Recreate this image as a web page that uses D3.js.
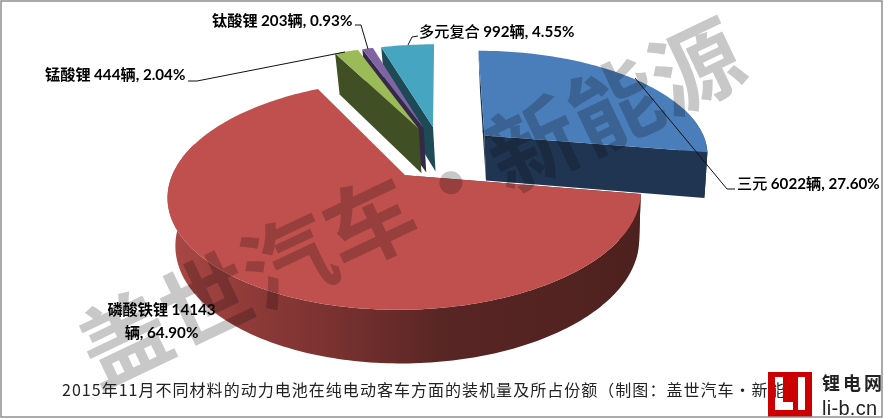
<!DOCTYPE html>
<html><head><meta charset="utf-8">
<script src="https://cdn.jsdelivr.net/npm/d3@7/dist/d3.min.js"></script>
<style>
html,body{margin:0;padding:0;background:#fff}
svg{display:block}
.cjk{font-family:"Noto Sans CJK SC";font-weight:500}
.cjkb{font-family:"Noto Sans CJK SC";font-weight:700}
.lat{font-family:Lato,"Noto Sans CJK SC";font-weight:700}
</style></head><body><svg id="c" width="884" height="419"></svg>
<script>
const names=["三元","磷酸铁锂","锰酸锂","钛酸锂","多元复合"];
const units=[6022,14143,444,203,992];
const shares=["27.60%","64.90%","2.04%","0.93%","4.55%"];
const topColors=["#4a7ebb","#c0504d","#9bbb59","#8064a2","#46a6c2"];
const wallColors=["#1f3552","url(#redWall)","#414f24","#342949","#1e4a55"];
const paintOrder=[0,4,3,2,1];
const titleText="2015年11月不同材料的动力电池在纯电动客车方面的装机量及所占份额（制图：盖世汽车·新能";
const watermark="盖世汽车·新能源";

const svg=d3.select("#c");
const defs=svg.append("defs");
const g=defs.append("linearGradient").attr("id","redWall").attr("gradientUnits","userSpaceOnUse")
  .attr("x1",170).attr("x2",640).attr("y1",0).attr("y2",0);
[[0,"#ab4845"],[.18,"#8d3a38"],[.34,"#7a3230"],[.58,"#582624"],[1,"#4d211f"]].forEach(s=>g.append("stop").attr("offset",s[0]).attr("stop-color",s[1]));

svg.append("rect").attr("width",884).attr("height",419).attr("fill","#fff");

// perspective projection of the pie plane
const cx=441,cy=152.6,Rx=225,Ry=104,p=.165,explode=.26;
const project=(U,V)=>{const w=1/(1+p*V);return [cx+Rx*U*w,cy-Ry*V*w];};
const drop=q=>[560+(q[0]-560)*.98,q[1]+45+(q[1]-137)*.05];
const line=d3.line();
const arcs=d3.pie().sort(null).value(d=>d)(units);

function slice(a){
  const mid=(a.startAngle+a.endAngle)/2;
  const o=[explode*Math.sin(mid),explode*Math.cos(mid)];
  const n=Math.max(2,Math.ceil((a.endAngle-a.startAngle)/.02));
  const ts=d3.range(n+1).map(i=>a.startAngle+(a.endAngle-a.startAngle)*i/n);
  const pt=t=>project(o[0]+Math.sin(t),o[1]+Math.cos(t));
  return {apex:project(o[0],o[1]),rim:ts.map(pt),front:ts.filter(t=>Math.cos(t)<.3).map(pt)};
}
paintOrder.forEach((i)=>{
  const s=slice(arcs[i]);
  const G=svg.append("g");
  const wall=wallColors[i];
  const quad=(a,b)=>G.append("path").attr("d",line([a,b,drop(b),drop(a)])+"Z").attr("fill",wall);
  quad(s.apex,s.rim[0]);
  if(arcs[i].endAngle<Math.PI) quad(s.apex,s.rim[s.rim.length-1]);
  if(s.front.length>1) G.append("path").attr("d",line(s.front.concat(s.front.map(drop).reverse()))+"Z").attr("fill",wall);
  G.append("path").attr("d",line([s.apex].concat(s.rim))+"Z").attr("fill",topColors[i]);
});

// watermark, one glyph at a time along its slanted line
const wmStart=[122,334],wmEnd=[694,62];
const wmAngle=Math.atan2(wmEnd[1]-wmStart[1],wmEnd[0]-wmStart[0])*180/Math.PI;
Array.from(watermark).forEach((ch,i,all)=>{
  const f=i/(all.length-1);
  svg.append("text").text(ch)
    .attr("transform",`translate(${wmStart[0]+(wmEnd[0]-wmStart[0])*f},${wmStart[1]+(wmEnd[1]-wmStart[1])*f}) rotate(${wmAngle})`)
    .attr("text-anchor","middle").attr("dominant-baseline","central")
    .attr("font-family","Noto Sans CJK SC").attr("font-weight",700).attr("font-size",90)
    .attr("fill","#c8c8c8").style("mix-blend-mode","multiply");
});

// leader lines
const leaders=[[[735,189],[727,189],[635,78]],null,[[188,81],[197,81],[345,52]],[[355,25],[361,25],[368,49]],[[418,36],[412,37],[408,45]]];
leaders.forEach(l=>{if(l)svg.append("path").attr("d",line(l)).attr("fill","none").attr("stroke","#111").attr("stroke-width",1);});

// labels
const labelAt=[[737,184],null,[45,75],[212,21],[419,32]];
const labelWeight=["cjk","cjkb","cjkb","cjkb","cjk"];
function label(x,y,anchor,parts){
  const t=svg.append("text").attr("x",x).attr("y",y).attr("dy","0.35em").attr("text-anchor",anchor).attr("font-size",15.2).attr("fill","#000");
  parts.forEach(([c,s])=>t.append("tspan").attr("class",c).text(s));
}
names.forEach((n,i)=>{
  if(!labelAt[i])return;
  label(labelAt[i][0],labelAt[i][1],"start",[[labelWeight[i],n+" "],["lat",units[i]],["cjkb","辆"],["lat",", "+shares[i]]]);
});
label(161.5,310,"middle",[[labelWeight[1],names[1]+" "],["lat",units[1]]]);
label(161.5,333,"middle",[["cjkb","辆"],["lat",", "+shares[1]]]);

// title
svg.append("text").text(titleText).attr("x",62).attr("y",390).attr("dy","0.35em")
  .attr("font-family","Noto Sans CJK SC").attr("font-size",16).attr("letter-spacing",1.03).attr("fill","#222");

// logo
svg.append("path").attr("fill-rule","evenodd").attr("fill","#cc0000")
  .attr("d","M768 372H812V417H768Z M775 377V410H793V402H783V377Z M798 377V410H805V377Z");
Array.from("锂电网").forEach((ch,i)=>svg.append("text").text(ch).attr("x",831+i*21).attr("y",384).attr("dy","0.35em")
  .attr("text-anchor","middle").attr("font-family","Noto Sans CJK SC").attr("font-weight",700).attr("font-size",18).attr("fill","#222"));
svg.append("text").text("li-b.cn").attr("x",822).attr("y",408).attr("dy","0.35em")
  .attr("font-family","Liberation Sans").attr("font-size",20).attr("letter-spacing",.3).attr("fill","#222");

// frame
svg.append("rect").attr("x",1).attr("y",1).attr("width",881).attr("height",416)
  .attr("fill","none").attr("stroke","#8f8f8f").attr("stroke-width",1.5);
</script></body></html>
